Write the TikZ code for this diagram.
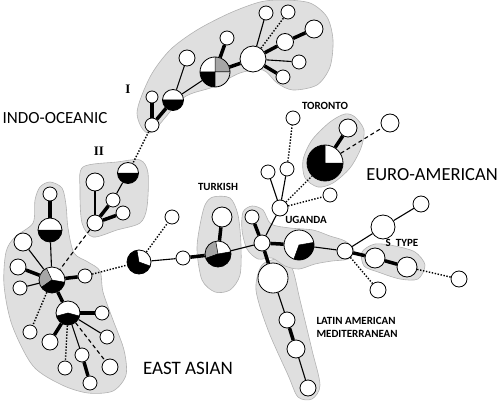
\documentclass[tikz,border=0pt]{standalone}
\usepackage{fontspec}
\setmainfont{Carlito}
\newfontfamily\numeralfont{Liberation Serif}
\usepackage{tikz}
\usetikzlibrary{backgrounds}

\newcommand{\hapslice}[3]{\filldraw[fill=#3,draw=black,line width=0.5pt] (path picture bounding box.center) -- ++(#1:25pt) arc[start angle=#1,end angle=#2,radius=25pt] -- cycle;}

\tikzset{
	hap/.style={circle,draw,fill=white,inner sep=0pt,line width=0.8pt,minimum size=#1pt},
	group/.style={fill=gray!25,draw=gray!60,line width=0.6pt},
	lineage/.style={font=\fontsize{17}{17}\selectfont},
	sublineage/.style={font=\bfseries\fontsize{11}{13}\selectfont,align=left},
	numeral/.style={font=\numeralfont\bfseries\fontsize{13}{13}\selectfont}
}

\begin{document}
\begin{tikzpicture}[x=1pt,y=-1pt]
	\useasboundingbox (0,0) rectangle (500,401);

	% shaded lineage groups
	\path[group] plot[smooth cycle] coordinates {(137,113) (150,133) (183,98) (213,87) (240,73) (263,70) (277,83) (293,90) (317,85) (330,67) (333,40) (327,17) (310,3) (283,0) (260,2) (230,13) (197,30) (170,50) (150,77)};
	\path[group] plot[smooth cycle] coordinates {(83,167) (117,162) (140,160) (148,173) (147,207) (140,223) (117,230) (93,237) (82,223) (80,190)};
	\path[group] plot[smooth cycle] coordinates {(50,182) (62,188) (66,205) (68,228) (74,253) (88,262) (100,271) (103,292) (113,320) (124,350) (126,375) (113,391) (88,393) (62,385) (33,366) (12,325) (4,285) (6,252) (15,237) (33,223) (35,200) (40,187)};
	\path[group] plot[smooth cycle] coordinates {(355,117) (364,130) (361,148) (350,168) (333,183) (318,187) (305,178) (303,160) (312,140) (330,122) (345,114)};
	\path[group] plot[smooth cycle] coordinates {(213,197) (230,198) (238,215) (241,245) (240,275) (230,290) (215,292) (202,280) (197,250) (200,225) (205,205)};
	\path[group] plot[smooth cycle] coordinates {(262,265) (280,259) (292,268) (300,300) (312,350) (320,385) (312,399) (298,397) (288,375) (268,330) (256,290)};
	\path[group] plot[smooth cycle] coordinates {(243,212) (252,206) (263,210) (271,224) (290,228) (313,230) (330,236) (345,241) (354,250) (348,259) (332,261) (315,264) (299,269) (285,266) (272,258) (258,259) (247,249) (242,230)};
	\path[group] plot[smooth cycle] coordinates {(362,252) (375,244) (395,246) (415,252) (425,265) (418,279) (400,279) (378,272) (364,266)};

	% Indo-Oceanic I
	\node[hap=26] (io1) at (253,59) {};
	\node[hap=30,path picture={\hapslice{0}{90}{gray!70}\hapslice{180}{270}{black}\hapslice{270}{360}{gray!30}}] (iop) at (215,72) {};
	\node[hap=14] (io2) at (227,38) {};
	\node[hap=16] (io3) at (187,58) {};
	\node[hap=21,path picture={\hapslice{180}{360}{black}}] (ioh) at (173,100) {};
	\node[hap=12] (io4) at (152,97) {};
	\node[hap=14] (io5) at (152,125) {};
	\node[hap=14] (io6) at (266,13) {};
	\node[hap=14] (io7) at (288,12) {};
	\node[hap=17] (io8) at (285,42) {};
	\node[hap=18] (io9) at (314,29) {};
	\node[hap=14] (io10) at (299,62) {};
	\node[hap=14] (io11) at (283,77) {};

	% Indo-Oceanic II
	\node[hap=21,path picture={\hapslice{180}{360}{black}}] (iih) at (128,173) {};
	\node[hap=18] (ii1) at (95,182) {};
	\node[hap=14] (ii2) at (113,200) {};
	\node[hap=14] (ii3) at (123,213) {};
	\node[hap=16] (ii4) at (95,223) {};

	% East Asian
	\node[hap=14] (ea1) at (50,194) {};
	\node[hap=24,path picture={\hapslice{180}{360}{black}}] (eah) at (50,230) {};
	\node[hap=26,path picture={\hapslice{115}{215}{gray!70}\hapslice{215}{350}{black}}] (eap) at (52,280) {};
	\node[hap=18] (ea2) at (23,242) {};
	\node[hap=16] (ea3) at (18,267) {};
	\node[hap=14] (ea4) at (20,288) {};
	\node[hap=14] (ea5) at (85,276) {};
	\node[hap=24,path picture={\hapslice{195}{345}{black}}] (eaq) at (68,313) {};
	\node[hap=14] (ea6) at (102,313) {};
	\node[hap=14] (ea7) at (107,337) {};
	\node[hap=16] (ea8) at (110,367) {};
	\node[hap=14] (ea9) at (82,355) {};
	\node[hap=14] (ea10) at (90,383) {};
	\node[hap=14] (ea11) at (65,368) {};
	\node[hap=16] (ea12) at (50,342) {};
	\node[hap=14] (ea13) at (30,332) {};

	% ancestral links and Turkish
	\node[hap=24,path picture={\hapslice{100}{340}{black}}] (eab) at (139,262) {};
	\node[hap=14] (ebt) at (172,217) {};
	\node[hap=14] (ec1) at (183,258) {};
	\node[hap=26,path picture={\hapslice{100}{200}{gray!70}\hapslice{200}{370}{black}}] (tkp) at (218,254) {};
	\node[hap=20] (tk1) at (222,217) {};

	% Euro-American
	\node[hap=16] (uc) at (262,243) {};
	\node[hap=14] (ug1) at (252,217) {};
	\node[hap=16] (un) at (280,208) {};
	\node[hap=14] (un1) at (268,172) {};
	\node[hap=14] (un2) at (287,169) {};
	\node[hap=14] (un3) at (293,118) {};
	\node[hap=14] (un4) at (330,195) {};
	\node[hap=36,path picture={\hapslice{90}{360}{black}}] (trp) at (325,163) {};
	\node[hap=18] (tr1) at (348,128) {};
	\node[hap=18] (tr2) at (390,123) {};
	\node[hap=30,path picture={\hapslice{-110}{10}{black}}] (ugp) at (299,245) {};
	\node[hap=16] (st) at (345,251) {};
	\node[hap=24] (st1) at (383,227) {};
	\node[hap=16] (st2) at (421,204) {};
	\node[hap=20] (st3) at (375,258) {};
	\node[hap=20] (st4) at (407,267) {};
	\node[hap=16] (st5) at (459,279) {};
	\node[hap=16] (st6) at (378,290) {};
	\node[hap=30] (la1) at (273,278) {};
	\node[hap=16] (la2) at (287,320) {};
	\node[hap=18] (la3) at (296,349) {};
	\node[hap=16] (la4) at (308,388) {};

	% links
	\begin{scope}[every edge/.style={draw,line width=1.1pt}]
		\path (iop) edge (ioh);
		\path (ioh) edge (io3);
		\path (io1) edge (io6);
		\path (io1) edge (io10);
		\path (iih) edge (ii2);
		\path (ii4) edge (ii1);
		\path (eap) edge (eah);
		\path (eap) edge (ea2);
		\path (eap) edge (ea4);
		\path (eaq) edge (ea7);
		\path (eaq) edge (ea9);
		\path (eab) edge (ec1);
		\path (tkp) edge (uc);
		\path (uc) edge (un);
		\path (un) edge (un1);
		\path (un) edge (un2);
		\path (ugp) edge (st);
		\path (st) edge (st1);
		\path (st1) edge (st2);
		\path (la1) edge (la2);
		\path (la3) edge (la4);
	\end{scope}

	\begin{scope}[every edge/.style={draw,line width=3.5pt}]
		\path (io1) edge (iop);
		\path (iop) edge (io2);
		\path (ioh) edge (io5);
		\path (io5) edge (io4);
		\path (io1) edge (io8);
		\path (io8) edge (io9);
		\path (io1) edge (io11);
		\path (ii2) edge (ii4);
		\path (ii4) edge (ii3);
		\path (eah) edge (ea1);
		\path (eap) edge (ea3);
		\path (eap) edge (ea5);
		\path (eap) edge (eaq);
		\path (eaq) edge (ea6);
		\path (eaq) edge (ea12);
		\path (ea9) edge (ea10);
		\path (ec1) edge (tkp);
		\path (tkp) edge (tk1);
		\path (uc) edge (ug1);
		\path (uc) edge (ugp);
		\path (uc) edge (la1);
		\path (la2) edge (la3);
		\path (trp) edge (tr1);
		\path (st) edge (st3);
		\path (st3) edge (st4);
	\end{scope}

	\begin{scope}[every edge/.style={draw,line width=1.4pt,dash pattern=on 1.4pt off 1.6pt}]
		\path (io1) edge (io7);
		\path (io5) edge (iih);
		\path (eap) edge (ea13);
		\path (eaq) edge (ea11);
		\path (ea5) edge (eab);
		\path (eab) edge (ebt);
		\path (un2) edge (un3);
		\path (un) edge (un4);
		\path (un) edge (trp);
		\path (st4) edge (st5);
		\path (st) edge (st6);
	\end{scope}

	\begin{scope}[every edge/.style={draw,line width=1.1pt,dash pattern=on 4pt off 3pt}]
		\path (ii4) edge (eap);
		\path (eaq) edge (ea8);
		\path (trp) edge (tr2);
	\end{scope}

	% labels
	\node[lineage] (indo) at (55,118) {INDO-OCEANIC};
	\node[lineage,font=\fontsize{18.5}{18.5}\selectfont] (euro) at (432,175) {EURO-AMERICAN};
	\node[lineage,font=\fontsize{19}{19}\selectfont] (east) at (188,368) {EAST ASIAN};
	\node[numeral] (one) at (128,89) {I};
	\node[numeral] (two) at (99,151) {II};
	\node[sublineage] (toronto) at (325,106) {TORONTO};
	\node[sublineage] (turkish) at (218,187) {TURKISH};
	\node[sublineage] (uganda) at (306,220) {UGANDA};
	\node[sublineage] (stype) at (402,243) {S~~TYPE};
	\node[sublineage,anchor=west] (latin) at (313,327) {LATIN AMERICAN\\MEDITERRANEAN};
\end{tikzpicture}
\end{document}
